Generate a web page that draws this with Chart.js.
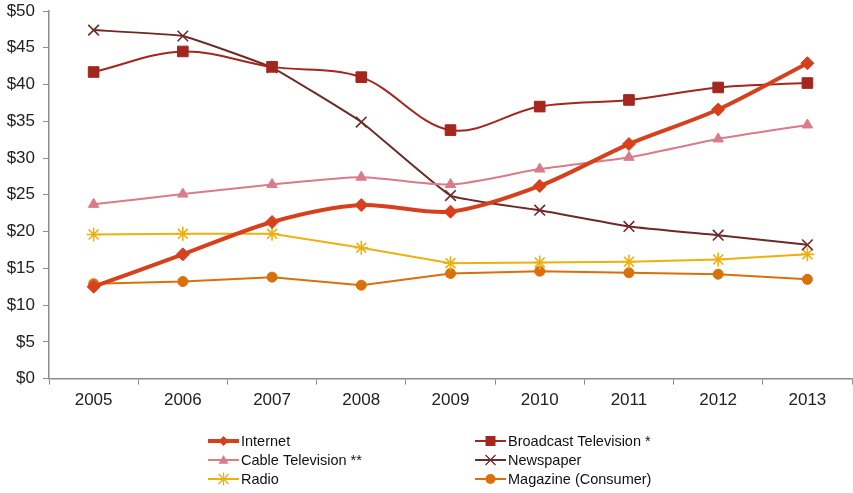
<!DOCTYPE html>
<html>
<head>
<meta charset="utf-8">
<script src="https://cdn.jsdelivr.net/npm/chart.js@4"></script>
<style>
  html, body { margin: 0; padding: 0; background: #fff; }
  #wrap { width: 853px; height: 493px; }
</style>
</head>
<body>
<div id="wrap"><canvas id="adCanvas" width="853" height="493"></canvas></div>
<script>
const years = ['2005', '2006', '2007', '2008', '2009', '2010', '2011', '2012', '2013'];
const yTicks = [0, 5, 10, 15, 20, 25, 30, 35, 40, 45, 50];

const internet  = [12.5, 16.9, 21.3, 23.6, 22.7, 26.2, 31.9, 36.6, 42.9];
const broadcast = [41.7, 44.5, 42.4, 41.0, 33.8, 37.0, 37.9, 39.6, 40.2];
const cable     = [23.7, 25.1, 26.4, 27.4, 26.4, 28.5, 30.1, 32.6, 34.5];
const newspaper = [47.4, 46.6, 42.3, 34.9, 24.9, 22.9, 20.7, 19.5, 18.2];
const radio     = [19.6, 19.7, 19.7, 17.8, 15.7, 15.8, 15.9, 16.2, 16.9];
const magazine  = [12.9, 13.2, 13.8, 12.7, 14.3, 14.6, 14.4, 14.2, 13.5];

const font = 'Arial, "Liberation Sans", sans-serif';

function series(label, data, color, style, radius, width, tension) {
    return {
        label: label,
        data: data,
        borderColor: color,
        backgroundColor: color,
        pointBackgroundColor: color,
        pointBorderColor: color,
        pointStyle: style,
        pointRadius: radius,
        pointHoverRadius: radius,
        pointBorderWidth: (style === 'crossRot' || style === 'star') ? 1.6 : 1,
        borderWidth: width,
        tension: tension
    };
}

// small markers for the legend keys
function drawMarker(ctx, style, x, y, r) {
    ctx.beginPath();
    switch (style) {
        case 'rectRot':
            ctx.moveTo(x, y - r); ctx.lineTo(x + r, y); ctx.lineTo(x, y + r); ctx.lineTo(x - r, y);
            ctx.closePath(); ctx.fill(); break;
        case 'rect':
            ctx.rect(x - r, y - r, 2 * r, 2 * r); ctx.fill(); break;
        case 'triangle':
            ctx.moveTo(x, y - r); ctx.lineTo(x + r, y + r * 0.75); ctx.lineTo(x - r, y + r * 0.75);
            ctx.closePath(); ctx.fill(); break;
        case 'crossRot':
            ctx.moveTo(x - r, y - r); ctx.lineTo(x + r, y + r);
            ctx.moveTo(x + r, y - r); ctx.lineTo(x - r, y + r);
            ctx.stroke(); break;
        case 'star':
            ctx.moveTo(x - r, y - r); ctx.lineTo(x + r, y + r);
            ctx.moveTo(x + r, y - r); ctx.lineTo(x - r, y + r);
            ctx.moveTo(x, y - r * 1.3); ctx.lineTo(x, y + r * 1.3);
            ctx.stroke(); break;
        default:
            ctx.arc(x, y, r, 0, Math.PI * 2); ctx.fill();
    }
}

// legend in two columns under the plot
const legendBox = {
    id: 'legendBox',
    afterDraw(chart) {
        const ctx = chart.ctx;
        const cols = [208, 475];
        const rows = [441, 460, 479];
        ctx.save();
        chart.data.datasets.forEach((ds, i) => {
            const x = cols[i % 2];
            const y = rows[Math.floor(i / 2)];
            ctx.strokeStyle = ds.borderColor;
            ctx.lineWidth = ds.borderWidth;
            ctx.beginPath();
            ctx.moveTo(x, y);
            ctx.lineTo(x + 31, y);
            ctx.stroke();
            ctx.fillStyle = ds.borderColor;
            ctx.lineWidth = 1.3;
            drawMarker(ctx, ds.pointStyle, x + 15.5, y, 5);
            ctx.fillStyle = '#111';
            ctx.font = '14.5px ' + font;
            ctx.textAlign = 'left';
            ctx.textBaseline = 'middle';
            ctx.fillText(ds.label, x + 33, y + 1);
        });
        ctx.restore();
    }
};

const chart = new Chart(document.getElementById('adCanvas').getContext('2d'), {
    type: 'line',
    data: {
        labels: years,
        datasets: [
            series('Internet', internet, '#D7401C', 'rectRot', 6.5, 4, 0.3),
            series('Broadcast Television *', broadcast, '#A3261F', 'rect', 7.5, 2, 0.35),
            series('Cable Television **', cable, '#D97B89', 'triangle', 6, 2, 0.25),
            series('Newspaper', newspaper, '#6E2A28', 'crossRot', 7.5, 2, 0.1),
            series('Radio', radio, '#EEB00F', 'star', 7, 2, 0),
            series('Magazine (Consumer)', magazine, '#D9700A', 'circle', 5, 2, 0)
        ]
    },
    options: {
        responsive: false,
        animation: false,
        layout: { autoPadding: false, padding: { top: 0, right: 1, bottom: 76, left: 0 } },
        plugins: {
            legend: { display: false },
            tooltip: { enabled: false }
        },
        scales: {
            x: {
                offset: true,
                afterFit(scale) { scale.paddingRight = 0; scale.paddingLeft = 0; },
                grid: { offset: true, drawOnChartArea: false, tickLength: 6, color: '#8c8c8c' },
                border: { color: '#8c8c8c', width: 1.5 },
                ticks: { color: '#222', font: { family: font, size: 17 }, padding: 6 }
            },
            y: {
                min: 0,
                max: 50,
                afterFit(scale) { scale.width = 49; scale.paddingTop = 11; },
                afterBuildTicks(scale) { scale.ticks = yTicks.map(v => ({ value: v })); },
                grid: { drawOnChartArea: false, tickLength: 6, color: '#8c8c8c' },
                border: { color: '#8c8c8c', width: 1.5 },
                ticks: {
                    color: '#222',
                    font: { family: font, size: 17 },
                    padding: 8,
                    callback: v => '$' + v
                }
            }
        }
    },
    plugins: [legendBox]
});
</script>
</body>
</html>
